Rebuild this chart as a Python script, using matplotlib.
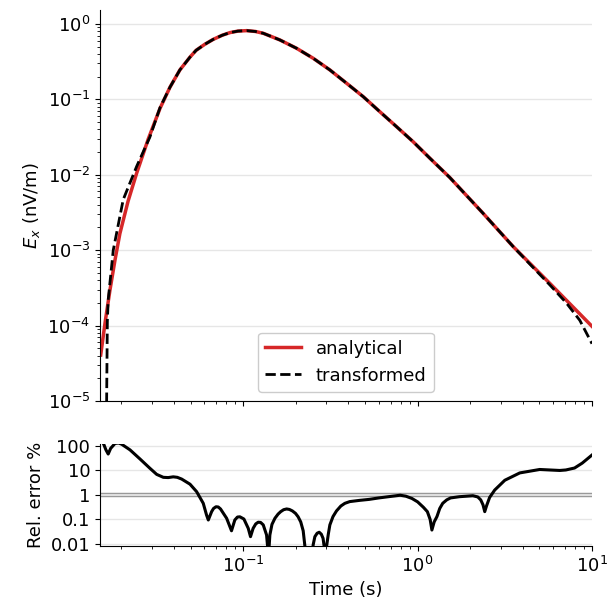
import numpy as np
import matplotlib
matplotlib.use("Agg")
import matplotlib.pyplot as plt
from matplotlib.ticker import FixedLocator, FixedFormatter, NullLocator

plt.rcParams['font.family'] = ['DejaVu Sans']
plt.rcParams['font.size'] = 13

# ---- data (log10 of values) ----
log_t_ana = [-1.817, -1.79, -1.764, -1.735, -1.707, -1.66, -1.611, -1.545, -1.477, -1.42,
             -1.363, -1.305, -1.27, -1.22, -1.172, -1.12, -1.076, -1.03, -0.98, -0.93,
             -0.885, -0.79, -0.694, -0.599, -0.503,
             -0.407, -0.312, -0.217, -0.121, -0.026, 0.07, 0.184, 0.375, 0.547, 0.758, 1.0]
log_e_ana = [-4.39, -3.93, -3.53, -3.13, -2.78, -2.35, -1.98, -1.53, -1.12, -0.84,
             -0.61, -0.44, -0.35, -0.27, -0.205, -0.15, -0.115, -0.095, -0.089, -0.10,
             -0.124, -0.212, -0.323, -0.455, -0.61,
             -0.787, -0.964, -1.163, -1.362, -1.561, -1.78, -2.035, -2.51, -2.95, -3.44, -4.01]

log_t_trans = [-1.790, -1.783, -1.779, -1.774, -1.745, -1.688, -1.611, -1.535, -1.477, -1.42,
               -1.363, -1.305, -1.27, -1.22, -1.172, -1.12, -1.076, -1.03, -0.98, -0.93,
               -0.885, -0.79, -0.694, -0.599, -0.503,
               -0.407, -0.312, -0.217, -0.121, -0.026, 0.07, 0.184, 0.375, 0.547, 0.65,
               0.758, 0.853, 0.93, 1.0]
log_e_trans = [-6.0, -5.0, -3.95, -3.66, -3.0, -2.33, -1.89, -1.50, -1.11, -0.84,
               -0.61, -0.44, -0.35, -0.27, -0.205, -0.15, -0.115, -0.095, -0.089, -0.10,
               -0.124, -0.212, -0.323, -0.455, -0.61,
               -0.787, -0.964, -1.163, -1.362, -1.561, -1.78, -2.035, -2.51, -2.95, -3.20,
               -3.46, -3.70, -3.93, -4.24]

log_t_err = [-1.815, -1.798, -1.787, -1.774, -1.76, -1.735, -1.715, -1.697, -1.649, -1.592,
             -1.535, -1.496, -1.458, -1.43, -1.401, -1.378, -1.353, -1.305, -1.267, -1.229,
             -1.21, -1.2, -1.181, -1.17, -1.156, -1.143, -1.13, -1.095, -1.067, -1.048,
             -1.033, -1.019, -0.996, -0.971, -0.958, -0.943, -0.928, -0.914, -0.9, -0.885,
             -0.866, -0.855, -0.847, -0.835, -0.818, -0.8, -0.785, -0.768, -0.751, -0.735,
             -0.718, -0.70, -0.685, -0.67, -0.656, -0.646, -0.64, -0.605, -0.599, -0.589,
             -0.576, -0.564, -0.552, -0.542, -0.53, -0.522, -0.512, -0.503, -0.485, -0.465,
             -0.44, -0.417, -0.389, -0.333, -0.278, -0.222, -0.167, -0.133, -0.1, -0.067,
             -0.033, 0.0, 0.033, 0.056, 0.072, 0.082, 0.095, 0.111, 0.127, 0.144,
             0.167, 0.189, 0.24, 0.317, 0.345, 0.362, 0.375, 0.385, 0.395, 0.413,
             0.442, 0.5, 0.586, 0.70, 0.815, 0.85, 0.9, 0.944, 1.0]
log_err = [2.3, 2.04, 1.84, 1.67, 1.9, 2.1, 2.12, 2.07, 1.84, 1.47,
           1.09, 0.84, 0.72, 0.71, 0.74, 0.72, 0.65, 0.44, 0.135, -0.34,
           -0.82, -1.02, -0.68, -0.55, -0.48, -0.49, -0.57, -0.95, -1.46, -1.02,
           -0.9, -0.89, -0.98, -1.36, -1.70, -1.36, -1.18, -1.11, -1.12, -1.22,
           -1.63, -2.5, -1.63, -1.2, -0.95, -0.78, -0.68, -0.6, -0.57, -0.59,
           -0.65, -0.75, -0.89, -1.1, -1.46, -2.1, -2.6, -2.6, -2.04, -1.70,
           -1.56, -1.52, -1.6, -1.77, -2.4, -2.1, -1.6, -1.22, -0.88, -0.65,
           -0.45, -0.34, -0.27, -0.22, -0.18, -0.12, -0.07, -0.04, -0.01, -0.05,
           -0.14, -0.28, -0.50, -0.68, -1.0, -1.43, -1.1, -0.88, -0.55, -0.34,
           -0.2, -0.12, -0.07, -0.03, -0.08, -0.2, -0.4, -0.68, -0.45, -0.1,
           0.2, 0.6, 0.9, 1.04, 1.0, 1.02, 1.1, 1.3, 1.63]

err_ticks = [0.01, 0.1, 1, 10, 100]
err_tick_labels = ['0.01', '0.1', '1', '10', '100']

t_ana = 10.0 ** np.array(log_t_ana)
e_ana = 10.0 ** np.array(log_e_ana)
t_trans = 10.0 ** np.array(log_t_trans)
e_trans = 10.0 ** np.array(log_e_trans)
t_err = 10.0 ** np.array(log_t_err)
err = 10.0 ** np.array(log_err)

W, H = 609, 610
fig = plt.figure(figsize=(W / 100, H / 100), dpi=100)

def frac(l, t, r, b):
    return [l / W, 1 - b / H, (r - l) / W, (b - t) / H]

ax1 = fig.add_axes(frac(100, 10, 592, 401))
ax2 = fig.add_axes(frac(100, 444, 592, 546), sharex=ax1)

grid_kw = dict(color='0.9', lw=1.0)

# top panel
ax1.plot(t_ana, e_ana, color='#d62728', lw=2.5, label='analytical', solid_joinstyle='round')
ax1.plot(t_trans, e_trans, color='k', lw=2.0, ls='--', label='transformed')
ax1.set_xscale('log')
ax1.set_yscale('log')
ax1.set_xlim(0.0151, 10)
ax1.set_ylim(1e-5, 1.53)
ax1.set_ylabel('$E_x$ (nV/m)')
ax1.grid(axis='y', which='major', **grid_kw)
ax1.set_axisbelow(True)
for s in ('top', 'right'):
    ax1.spines[s].set_visible(False)
ax1.tick_params(axis='x', labelbottom=False)
ax1.legend(loc='lower center', fontsize=13, framealpha=1)

# bottom panel
ax2.axhline(1, color='0.6', lw=3.2, zorder=1)
ax2.axhline(1, color='0.93', lw=1.2, zorder=1.1)
ax2.plot(t_err, err, color='k', lw=2.2, zorder=3, solid_joinstyle='round')
ax2.set_yscale('log')
ax2.set_ylim(0.0083, 120)
ax2.yaxis.set_major_locator(FixedLocator(err_ticks))
ax2.yaxis.set_major_formatter(FixedFormatter(err_tick_labels))
ax2.yaxis.set_minor_locator(NullLocator())
ax2.grid(axis='y', which='major', **grid_kw)
ax2.set_axisbelow(True)
for s in ('top', 'right'):
    ax2.spines[s].set_visible(False)
ax2.set_ylabel('Rel. error %')
ax2.set_xlabel('Time (s)')
ax2.set_xlim(0.0151, 10)

fig.savefig('out.png', dpi=100)
